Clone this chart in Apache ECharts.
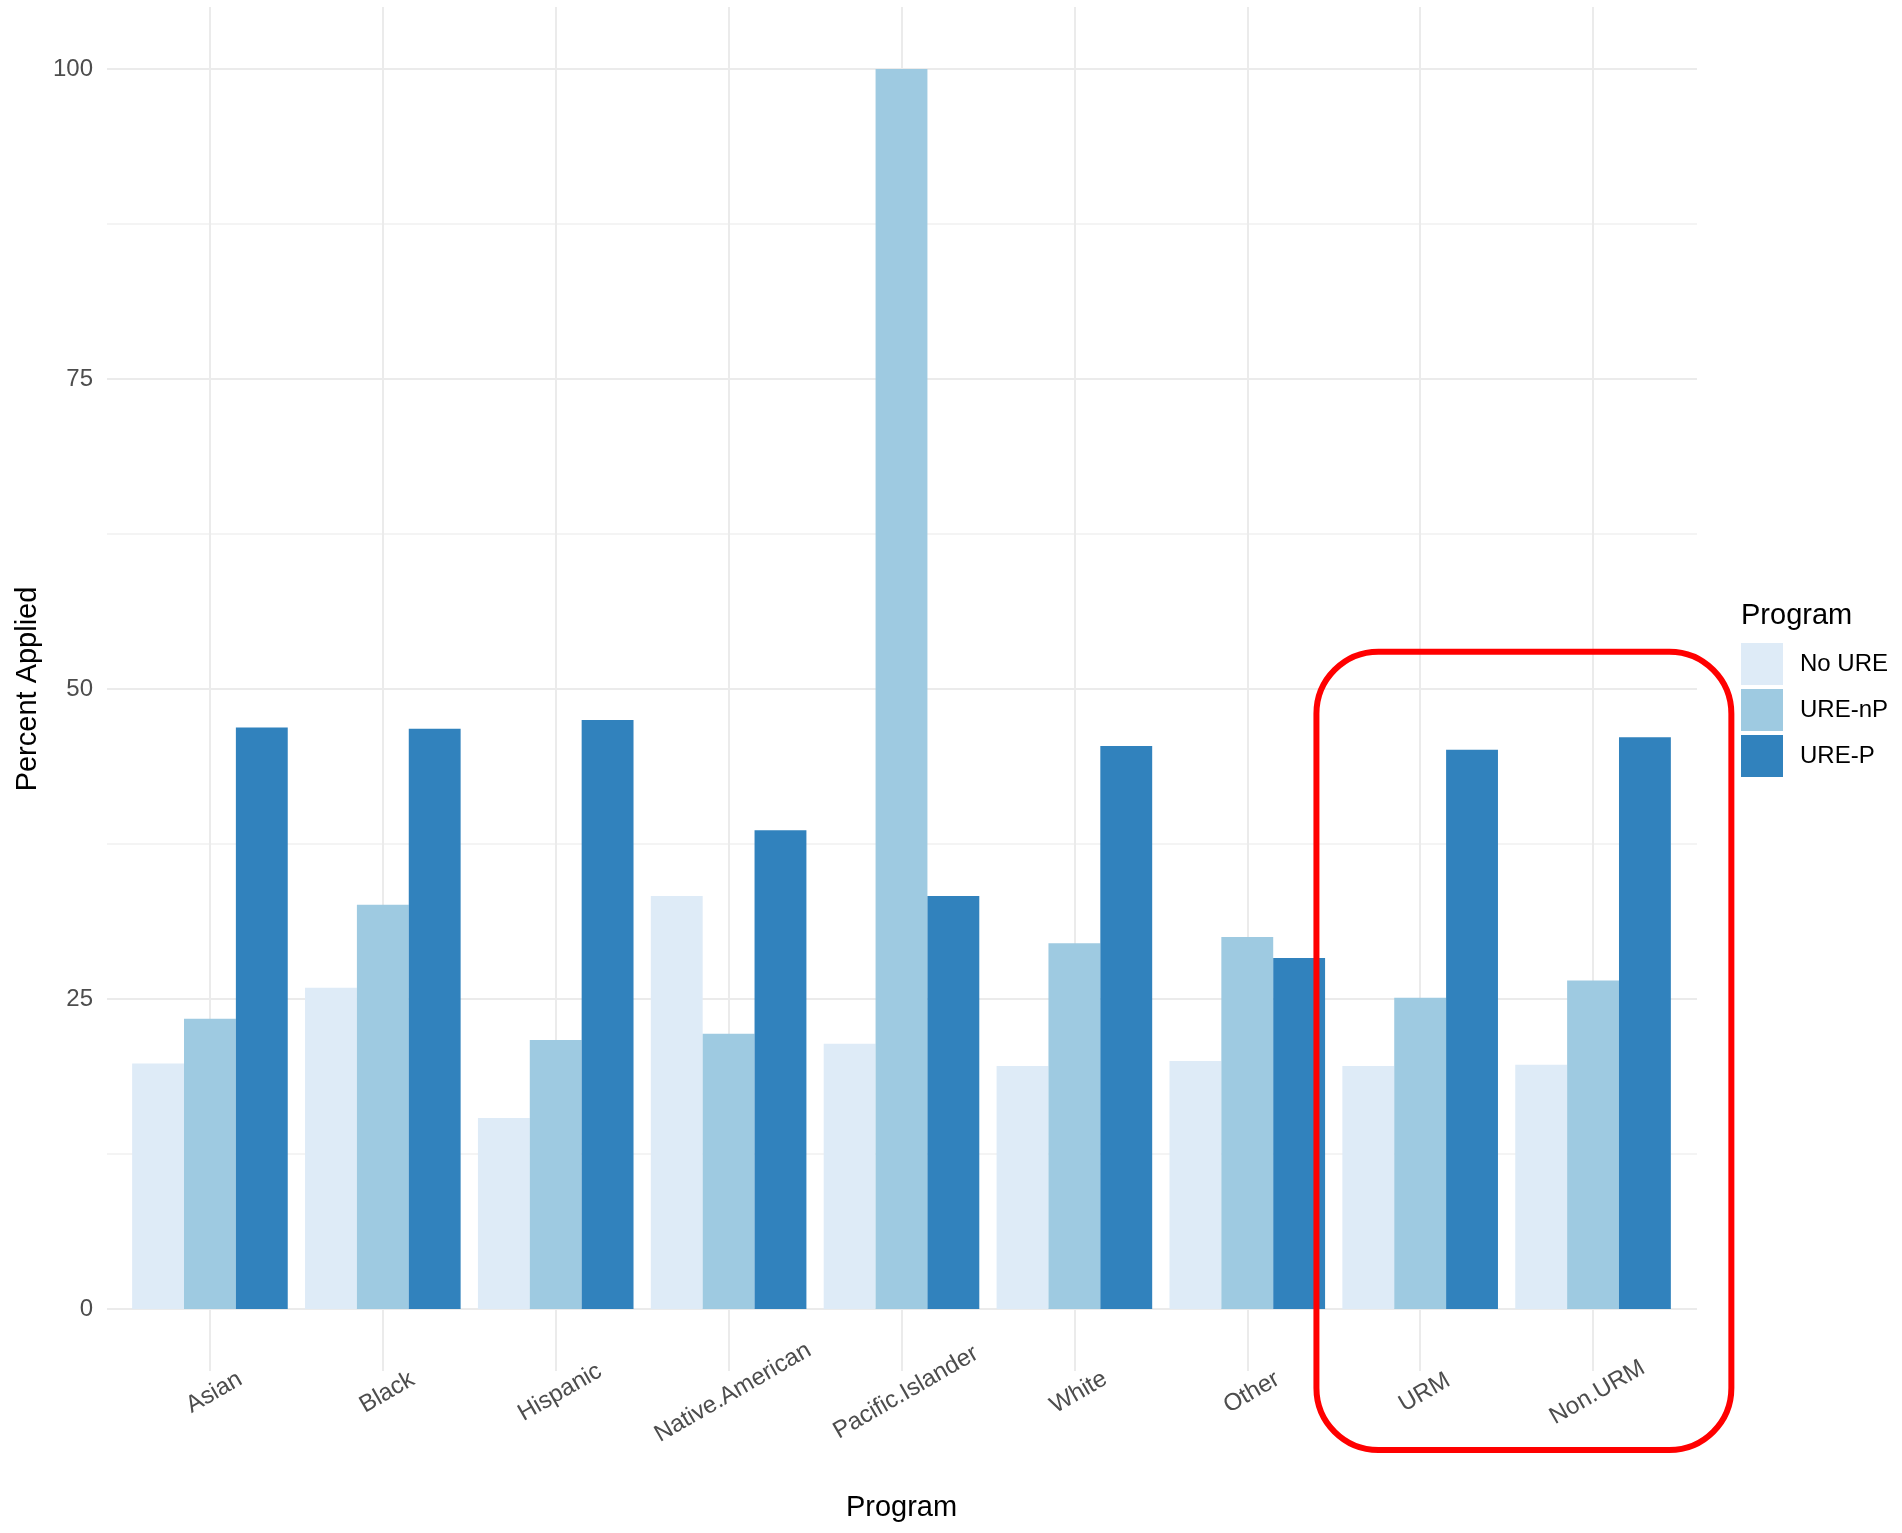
<!DOCTYPE html>
<html>
<head>
<meta charset="utf-8">
<title>Percent Applied by Program</title>
<script src="https://cdn.jsdelivr.net/npm/echarts@6/dist/echarts.min.js"></script>
<style>
html, body { margin: 0; padding: 0; background: #ffffff; }
#chart { width: 1902px; height: 1533px; }
</style>
</head>
<body>
<div id="chart"></div>
<script>
// data
var categories = ["Asian", "Black", "Hispanic", "Native.American", "Pacific.Islander", "White", "Other", "URM", "Non.URM"];
var seriesNames = ["No URE", "URE-nP", "URE-P"];
var noURE = [19.8, 25.9, 15.4, 33.3, 21.4, 19.6, 20.0, 19.6, 19.7];
var ureNP = [23.4, 32.6, 21.7, 22.2, 100, 29.5, 30.0, 25.1, 26.5];
var ureP  = [46.9, 46.8, 47.5, 38.6, 33.3, 45.4, 28.3, 45.1, 46.1];
var yTicks = [0, 25, 50, 75, 100];

var colors = ["#DEEBF7", "#9ECAE1", "#3182BD"];
var font = "'Liberation Sans', Arial, sans-serif";
var gridColor = "#EBEBEB";

var chart = echarts.init(document.getElementById("chart"), null, { renderer: "canvas" });

// ggplot pads the y range by 5% on each side
var yMin = yTicks[0], yMax = yTicks[yTicks.length - 1];
var pad = (yMax - yMin) * 0.05;

function barSeries(name, values, color) {
    return {
        name: name,
        type: "bar",
        xAxisIndex: 1,
        yAxisIndex: 1,
        barGap: "0%",
        barCategoryGap: "10%",
        data: values,
        itemStyle: { color: color },
        animation: false
    };
}

chart.setOption({
    backgroundColor: "#ffffff",
    textStyle: { fontFamily: font },
    title: {
        text: "Program",
        left: 1741,
        top: 601,
        padding: 0,
        textStyle: { fontFamily: font, fontSize: 29, fontWeight: "normal", color: "#000000" }
    },
    legend: {
        data: seriesNames,
        orient: "vertical",
        left: 1741,
        top: 643,
        padding: 0,
        icon: "rect",
        itemWidth: 42,
        itemHeight: 42,
        itemGap: 4,
        textStyle: { fontFamily: font, fontSize: 24, color: "#000000", padding: [5, 0, 0, 12] }
    },
    grid: [
        // grid for the y axis labels and horizontal grid lines (0..100)
        { left: 107, right: 205, top: 69, bottom: 224 },
        // grid for the bars (padded range, category centres like ggplot)
        { left: 123.5, right: 222.5, top: 7, bottom: 162 }
    ],
    xAxis: [
        { gridIndex: 0, type: "value", show: false },
        {
            gridIndex: 1,
            type: "category",
            data: categories,
            name: "Program",
            nameLocation: "middle",
            nameGap: 122,
            nameTextStyle: { fontFamily: font, fontSize: 29, color: "#000000" },
            axisLine: { show: false, onZero: false },
            axisTick: { show: false },
            splitLine: { show: true, alignWithLabel: true, lineStyle: { color: gridColor, width: 2 } },
            axisLabel: {
                rotate: 30,
                align: "center",
                verticalAlign: "middle",
                margin: 24,
                padding: [0, 0, 0, 10],
                interval: 0,
                fontFamily: font,
                fontSize: 24,
                color: "#4D4D4D"
            }
        }
    ],
    yAxis: [
        {
            gridIndex: 0,
            type: "value",
            min: yMin,
            max: yMax,
            interval: yTicks[1] - yTicks[0],
            name: "Percent Applied",
            nameLocation: "middle",
            nameGap: 58,
            nameTextStyle: { fontFamily: font, fontSize: 29, color: "#000000" },
            axisLine: { show: false },
            axisTick: { show: false },
            axisLabel: { margin: 14, fontFamily: font, fontSize: 24, color: "#4D4D4D" },
            splitLine: { show: true, lineStyle: { color: gridColor, width: 2 } },
            minorTick: { show: false, splitNumber: 2 },
            minorSplitLine: { show: true, lineStyle: { color: "#F1F1F1", width: 1.5 } }
        },
        {
            gridIndex: 1,
            type: "value",
            min: yMin - pad,
            max: yMax + pad,
            show: false,
            splitLine: { show: false }
        }
    ],
    series: [
        barSeries(seriesNames[0], noURE, colors[0]),
        barSeries(seriesNames[1], ureNP, colors[1]),
        barSeries(seriesNames[2], ureP, colors[2])
    ]
});

// red rounded box drawn round the URM / Non.URM groups
var c1 = chart.convertToPixel({ xAxisIndex: 1, yAxisIndex: 1 }, [categories[7], 53]);
var c2 = chart.convertToPixel({ xAxisIndex: 1, yAxisIndex: 1 }, [categories[8], 0]);
var band = c2[0] - c1[0];
chart.setOption({
    graphic: [{
        type: "rect",
        shape: {
            x: c1[0] - 0.6 * band,
            y: c1[1],
            width: 2.4 * band,
            height: (c2[1] + 141) - c1[1],
            r: 62
        },
        style: { fill: "none", stroke: "#FF0000", lineWidth: 6 },
        z: 100
    }]
});
</script>
</body>
</html>
